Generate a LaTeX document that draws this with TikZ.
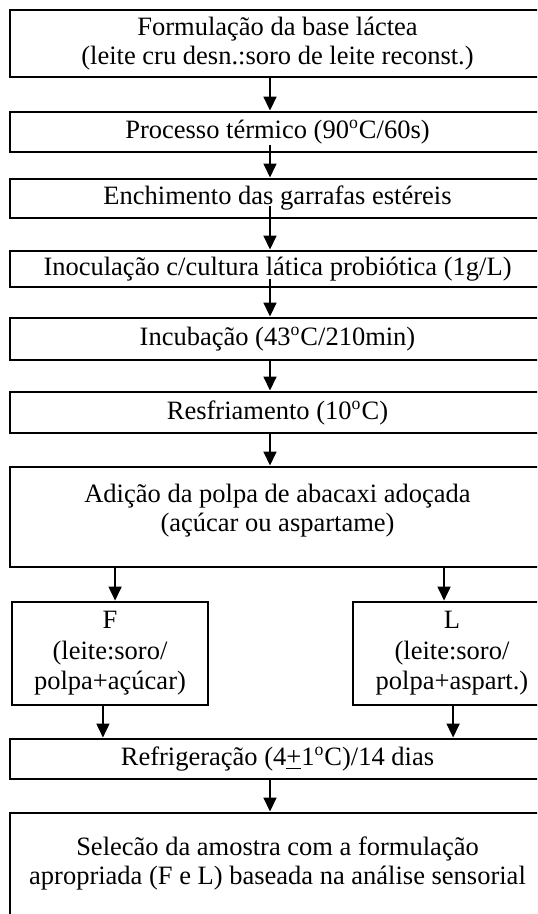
\documentclass[tikz,border=0pt]{standalone}
\usepackage{fontspec}
\setmainfont{Liberation Serif}
\usepackage{tikz}
\usetikzlibrary{arrows.meta}

\tikzset{
  etapa/.style={draw, line width=1.3pt, align=center, inner sep=0pt,
                font=\fontsize{12}{13.4}\selectfont},
  larga/.style={etapa, minimum width=242.3pt},
  ramo/.style={etapa, minimum height=46.6pt,
               font=\fontsize{12}{13.8}\selectfont},
  arr/.style={line width=0.9pt, -{Triangle[length=6.3pt,width=5.8pt]}}
}

\begin{document}
\begin{tikzpicture}[x=0.4528pt, y=-0.4528pt]
\useasboundingbox (0,0) rectangle (537,914);
\clip (0,0) rectangle (537,914);

\node[larga, minimum height=30.3pt] (b1) at (277.5,43.5)
  {Formulação da base láctea\\(leite cru desn.:soro de leite reconst.)};
\node[larga, minimum height=18.1pt] (b2) at (277.5,132)
  {Processo térmico (90\textsuperscript{o}C/60s)};
\node[larga, minimum height=17.7pt] (b3) at (277.5,198.5)
  {Enchimento das garrafas estéreis};
\node[larga, minimum height=16.3pt] (b4) at (277.5,269)
  {Inoculação c/cultura lática probiótica (1g/L)};
\node[larga, minimum height=19pt] (b5) at (277.5,339)
  {Incubação (43\textsuperscript{o}C/210min)};
\node[larga, minimum height=18.6pt] (b6) at (277.5,412.5)
  {Resfriamento (10\textsuperscript{o}C)};
\node[larga, minimum height=45.3pt] (b7) at (277.5,517)
  {Adição da polpa de abacaxi adoçada\\(açúcar ou aspartame)\\[-5pt]\mbox{}};

\node[ramo, minimum width=88.7pt] (f) at (110,653.5)
  {F\\(leite:soro/\\polpa+açúcar)};
\node[ramo, minimum width=89.6pt] (l) at (452,653.5)
  {L\\(leite:soro/\\polpa+aspart.)};

\node[larga, minimum height=18.1pt] (b8) at (277.5,759)
  {Refrigeração (4\underline{+}1\textsuperscript{o}C)/14 dias};
\node[larga, minimum height=56.6pt] (b9) at (277.5,875.5)
  {Selecão da amostra com a formulação\\apropriada (F e L) baseada na análise sensorial\\\mbox{}};

% setas do fluxo principal
\coordinate (spine) at (270,0);
\foreach \a/\b/\s in {b1/b2/0pt, b2/b3/4pt, b3/b4/6pt, b4/b5/4.5pt,
                      b5/b6/0pt, b6/b7/0pt, b8/b9/0pt}
  \draw[arr, shorten <=-\s] (\a.south -| spine) -- (\b.north -| spine);

% ramos F e L
\coordinate (fin)  at ([xshift=2.3pt]f.north);
\coordinate (fout) at ([xshift=-3.2pt]f.south);
\coordinate (lin)  at ([xshift=-3.6pt]l.north);
\coordinate (lout) at ([xshift=0.5pt]l.south);
\draw[arr] (fin |- b7.south) -- (fin);
\draw[arr] (lin |- b7.south) -- (lin);
\draw[arr] (fout) -- (fout |- b8.north);
\draw[arr] (lout) -- (lout |- b8.north);
\end{tikzpicture}
\end{document}
